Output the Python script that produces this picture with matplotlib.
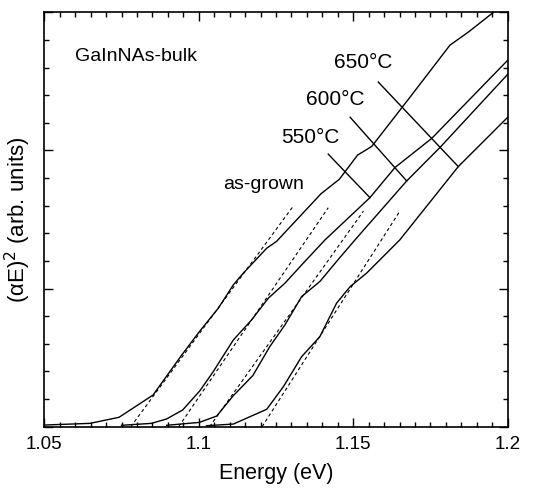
import matplotlib
matplotlib.use('Agg')
import matplotlib.pyplot as plt
from matplotlib.ticker import MultipleLocator, FixedFormatter, FixedLocator, NullFormatter

plt.rcParams['font.family'] = ['Liberation Sans', 'DejaVu Sans']

# measured curves, (alpha E)^2 vs energy
asgrown_x = [1.050, 1.0648, 1.0742, 1.0852, 1.0945, 1.1002, 1.1063, 1.1112, 1.1144, 1.1220,
             1.1252, 1.1333, 1.1396, 1.1455, 1.1514, 1.1560, 1.1684, 1.1813, 1.1874, 1.1954]
asgrown_y = [0.012, 0.024, 0.068, 0.229, 0.519, 0.688, 0.857, 1.027, 1.111, 1.292,
             1.342, 1.536, 1.687, 1.791, 1.966, 2.029, 2.386, 2.762, 2.859, 3.0]

t550_x = [1.0750, 1.0847, 1.0896, 1.0948, 1.1004, 1.1047, 1.1112, 1.1171, 1.1225, 1.1279,
          1.1333, 1.1409, 1.1554, 1.1635, 1.1754, 1.2]
t550_y = [0.010, 0.024, 0.056, 0.121, 0.261, 0.399, 0.628, 0.773, 0.930, 1.039,
          1.171, 1.353, 1.658, 1.876, 2.087, 2.653]

t600_x = [1.0896, 1.1002, 1.1058, 1.1112, 1.1175, 1.1230, 1.1279, 1.1333, 1.1392, 1.1446,
          1.1506, 1.1673, 1.1781, 1.2]
t600_y = [0.010, 0.031, 0.077, 0.225, 0.370, 0.580, 0.737, 0.942, 1.051, 1.196,
          1.353, 1.779, 2.022, 2.551]

t650_x = [1.1025, 1.1112, 1.1220, 1.1274, 1.1333, 1.1392, 1.1446, 1.1490, 1.1543, 1.1597,
          1.1651, 1.1840, 1.2]
t650_y = [0.007, 0.019, 0.126, 0.290, 0.507, 0.652, 0.894, 1.014, 1.111, 1.232,
          1.353, 1.883, 2.24]

# linear fits (dashed): start on the energy axis, end point
fit_x0 = [1.078, 1.0935, 1.1035, 1.1205]
fit_x1 = [1.1306, 1.1419, 1.1533, 1.1651]
fit_y1 = [1.597, 1.585, 1.561, 1.561]

# label leader lines
lead_550 = ([1.1419, 1.1554], [1.973, 1.658])
lead_600 = ([1.1490, 1.1673], [2.240, 1.779])
lead_650 = ([1.1581, 1.1840], [2.495, 1.883])

xticks = [1.05, 1.1, 1.15, 1.2]
xticklabels = ['1.05', '1.1', '1.15', '1.2']

fig = plt.figure(figsize=(5.48, 4.91), dpi=100)
ax = fig.add_axes([0.0808, 0.131, 0.8457, 0.844])

for xs, ys in [(asgrown_x, asgrown_y), (t550_x, t550_y), (t600_x, t600_y), (t650_x, t650_y)]:
    ax.plot(xs, ys, color='black', lw=1.0)

for x0, x1, y1 in zip(fit_x0, fit_x1, fit_y1):
    ax.plot([x0, x1], [0, y1], color='black', lw=0.8, ls=(0, (3, 2.5)))

for lx, ly in [lead_550, lead_600, lead_650]:
    ax.plot(lx, ly, color='black', lw=1.0)

ax.text(1.0599, 2.682, 'GaInNAs-bulk', fontsize=14, ha='left', va='center')
ax.text(1.1209, 1.75, 'as-grown', fontsize=14, ha='center', va='center')
ax.text(1.1362, 2.09, '550°C', fontsize=15, ha='center', va='center')
ax.text(1.1441, 2.369, '600°C', fontsize=15, ha='center', va='center')
ax.text(1.1531, 2.636, '650°C', fontsize=15, ha='center', va='center')

ax.set_xlim(1.05, 1.2)
ax.set_ylim(0, 3)
ax.xaxis.set_major_locator(FixedLocator(xticks))
ax.xaxis.set_major_formatter(FixedFormatter(xticklabels))
ax.xaxis.set_minor_locator(MultipleLocator(0.005))
ax.yaxis.set_major_locator(MultipleLocator(1))
ax.yaxis.set_minor_locator(MultipleLocator(0.2))
ax.yaxis.set_major_formatter(NullFormatter())
ax.tick_params(which='both', direction='in', top=True, right=True, width=1.0)
ax.tick_params(which='major', length=6.5, labelsize=13.5, pad=7)
ax.tick_params(which='minor', length=3.5)
for s in ax.spines.values():
    s.set_linewidth(1.2)

ax.set_xlabel('Energy (eV)', fontsize=15.5, labelpad=7)
ax.set_ylabel('(αE)$^2$ (arb. units)', fontsize=16)
ax.yaxis.set_label_coords(-0.025, 0.5)

fig.savefig('out.png', dpi=100)
